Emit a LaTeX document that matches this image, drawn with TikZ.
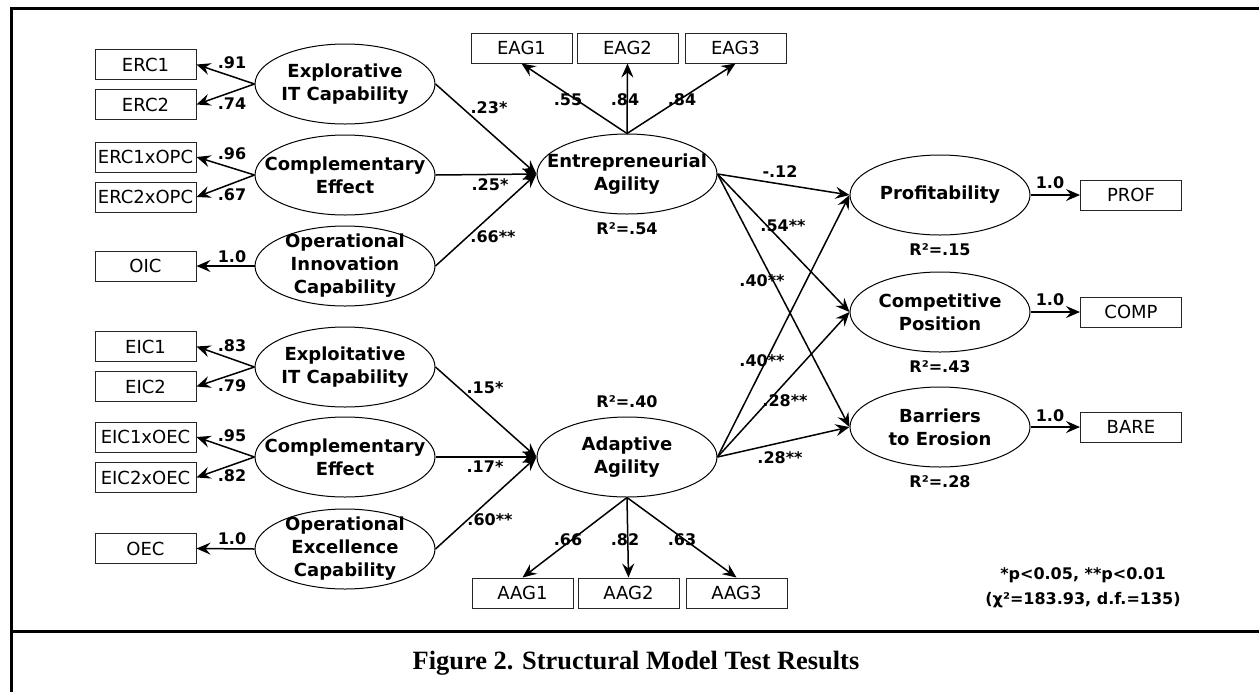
\documentclass[tikz,border=0pt]{standalone}
\usepackage{fontspec}
\setmainfont{DejaVu Sans}
\newfontfamily\captionfont{Liberation Serif}
\usepackage{tikz}
\usetikzlibrary{arrows.meta,shapes.geometric}
\tikzset{
  latent/.style={ellipse, draw=black, line width=0.5pt, align=center, minimum width=90pt, minimum height=40pt, inner xsep=-14pt, inner ysep=-8pt, font=\bfseries\fontsize{9}{11.5}\selectfont},
  indicator/.style={rectangle, draw=black!85, line width=0.5pt, minimum width=50.5pt, minimum height=15pt, inner sep=0pt, font=\fontsize{9}{11}\selectfont},
  effect/.style={-{Stealth[length=7pt,width=6pt,inset=2.5pt]}, line width=0.75pt},
  coef/.style={inner sep=0pt, font=\bfseries\fontsize{8}{10}\selectfont},
  framerule/.style={line width=1.5pt}
}

\begin{document}
\begin{tikzpicture}[x=0.5pt,y=-0.5pt]
  \useasboundingbox (0,0) rectangle (1259,692);
  % table frame
  \draw[framerule] (11,692) -- (11,8) -- (1259,8);
  \draw[framerule] (11,631) -- (1259,631);

  % constructs
  \node[latent] (expl) at (345,84) {Explorative\\IT Capability};
  \node[latent] (compa) at (345,175) {Complementary\\Effect};
  \node[latent] (opin) at (345,266) {Operational\\Innovation\\Capability};
  \node[latent] (expt) at (345,367) {Exploitative\\IT Capability};
  \node[latent] (compb) at (345,457) {Complementary\\Effect};
  \node[latent] (opex) at (345,549) {Operational\\Excellence\\Capability};
  \node[latent] (ea) at (627,174) {Entrepreneurial\\Agility};
  \node[latent] (aa) at (627,457) {Adaptive\\Agility};
  \node[latent] (prof) at (940,195) {Profitability};
  \node[latent] (cpos) at (940,312) {Competitive\\Position};
  \node[latent] (bero) at (940,427) {Barriers\\to Erosion};

  % indicators
  \node[indicator] (erc1) at (145.5,64.5) {ERC1};
  \node[indicator] (erc2) at (145.5,104.5) {ERC2};
  \node[indicator] (erc1x) at (145.5,157) {ERC1xOPC};
  \node[indicator] (erc2x) at (145.5,197) {ERC2xOPC};
  \node[indicator] (oic) at (145.5,266) {OIC};
  \node[indicator] (eic1) at (145.5,346.5) {EIC1};
  \node[indicator] (eic2) at (145.5,386.5) {EIC2};
  \node[indicator] (eic1x) at (145.5,437) {EIC1xOEC};
  \node[indicator] (eic2x) at (145.5,477.5) {EIC2xOEC};
  \node[indicator] (oec) at (145.5,548.5) {OEC};
  \node[indicator] (eag1) at (521.5,48) {EAG1};
  \node[indicator] (eag2) at (627.5,48) {EAG2};
  \node[indicator] (eag3) at (735.5,48) {EAG3};
  \node[indicator] (aag1) at (522.5,593) {AAG1};
  \node[indicator] (aag2) at (628.5,593) {AAG2};
  \node[indicator] (aag3) at (736.5,593) {AAG3};
  \node[indicator] (profm) at (1131,195) {PROF};
  \node[indicator] (compm) at (1131,312) {COMP};
  \node[indicator] (barem) at (1131,427) {BARE};

  % loadings
  \draw[effect] (expl.west) -- (erc1.east);
  \draw[effect] (expl.west) -- (erc2.east);
  \draw[effect] (compa.west) -- (erc1x.east);
  \draw[effect] (compa.west) -- (erc2x.east);
  \draw[effect] (opin.west) -- (oic.east);
  \draw[effect] (expt.west) -- (eic1.east);
  \draw[effect] (expt.west) -- (eic2.east);
  \draw[effect] (compb.west) -- (eic1x.east);
  \draw[effect] (compb.west) -- (eic2x.east);
  \draw[effect] (opex.west) -- (oec.east);
  \draw[effect] (ea.north) -- (eag1.south);
  \draw[effect] (ea.north) -- (eag2.south);
  \draw[effect] (ea.north) -- (eag3.south);
  \draw[effect] (aa.south) -- (aag1.north);
  \draw[effect] (aa.south) -- (aag2.north);
  \draw[effect] (aa.south) -- (aag3.north);
  \draw[effect] (prof.east) -- (profm.west);
  \draw[effect] (cpos.east) -- (compm.west);
  \draw[effect] (bero.east) -- (barem.west);

  % structural paths
  \draw[effect] (expl.east) -- (ea.west);
  \draw[effect] (compa.east) -- (ea.west);
  \draw[effect] (opin.east) -- (ea.west);
  \draw[effect] (expt.east) -- (aa.west);
  \draw[effect] (compb.east) -- (aa.west);
  \draw[effect] (opex.east) -- (aa.west);
  \draw[effect] (ea.east) -- (prof.west);
  \draw[effect] (ea.east) -- (cpos.west);
  \draw[effect] (ea.east) -- (bero.west);
  \draw[effect] (aa.east) -- (prof.west);
  \draw[effect] (aa.east) -- (cpos.west);
  \draw[effect] (aa.east) -- (bero.west);

  % coefficients
  \node[coef] (c91) at (232,63) {.91};
  \node[coef] (c74) at (232,104) {.74};
  \node[coef] (c96) at (232,154) {.96};
  \node[coef] (c67) at (232,195) {.67};
  \node[coef] (coic) at (232,257) {1.0};
  \node[coef] (c83) at (232,346) {.83};
  \node[coef] (c79) at (232,386) {.79};
  \node[coef] (c95) at (232,436) {.95};
  \node[coef] (c82) at (232,476) {.82};
  \node[coef] (coec) at (232,539) {1.0};
  \node[coef] (c55) at (568,100) {.55};
  \node[coef] (c84a) at (625,100) {.84};
  \node[coef] (c84b) at (682,100) {.84};
  \node[coef] (c66a) at (568,540) {.66};
  \node[coef] (c82b) at (625,540) {.82};
  \node[coef] (c63) at (682,540) {.63};
  \node[coef] (c23) at (489,108) {.23*};
  \node[coef] (c25) at (490,185) {.25*};
  \node[coef] (c66) at (493,237) {.66**};
  \node[coef] (c15) at (485,388) {.15*};
  \node[coef] (c17) at (485,467) {.17*};
  \node[coef] (c60) at (490,520) {.60**};
  \node[coef] (c12) at (780,172) {-.12};
  \node[coef] (c54) at (783,226) {.54**};
  \node[coef] (c40a) at (762,281) {.40**};
  \node[coef] (c40b) at (762,361) {.40**};
  \node[coef] (c28a) at (785,401) {.28**};
  \node[coef] (c28b) at (780,458) {.28**};
  \node[coef] (cprof) at (1050,183) {1.0};
  \node[coef] (ccomp) at (1050,300) {1.0};
  \node[coef] (cbare) at (1050,416) {1.0};

  % explained variance
  \node[coef] (rea) at (627,229) {R²=.54};
  \node[coef] (raa) at (627,402) {R²=.40};
  \node[coef] (rprof) at (940,250) {R²=.15};
  \node[coef] (rcomp) at (940,367) {R²=.43};
  \node[coef] (rbero) at (940,482) {R²=.28};

  % fit
  \node[coef] (sig) at (1083,575) {*p<0.05, **p<0.01};
  \node[coef] (fit) at (1083,600) {(χ²=183.93, d.f.=135)};

  \node[font=\captionfont\bfseries\fontsize{13.2}{15}\selectfont] (caption) at (636,663) {Figure 2. Structural Model Test Results};
\end{tikzpicture}
\end{document}
